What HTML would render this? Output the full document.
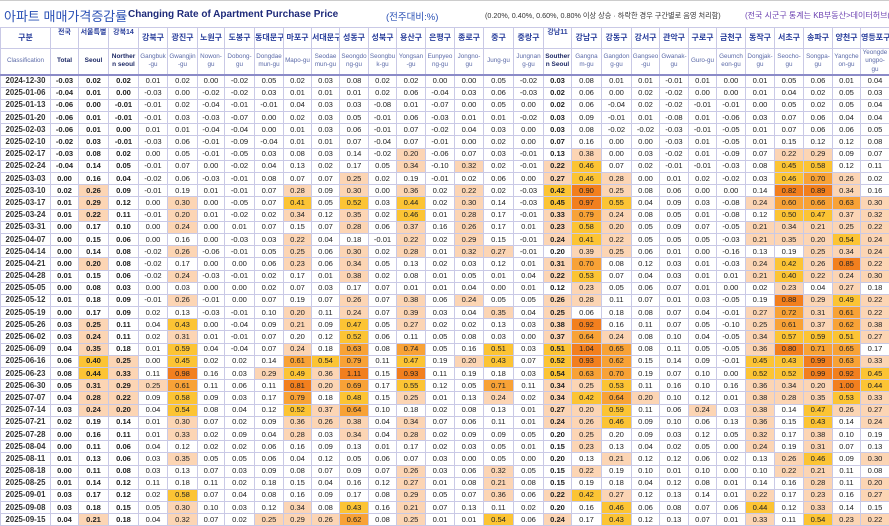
<!DOCTYPE html>
<html><head><meta charset="utf-8">
<style>
*{margin:0;padding:0;box-sizing:border-box}
body{width:889px;height:526px;background:#fff;font-family:"Liberation Sans","Noto Sans CJK KR",sans-serif;overflow:hidden;position:relative}
#title{position:absolute;left:0;top:0;width:889px;height:27px;border-top:1px solid #ccc;white-space:nowrap}
#title span{position:absolute;top:7px}
table{position:absolute;left:0;top:27px;border-collapse:collapse;table-layout:fixed;width:889px}
td{border:1px solid #c9c9e6;font-size:7.6px;text-align:center;height:12.2px;line-height:10px;color:#222;overflow:hidden;white-space:nowrap;padding:0}
tbody td:nth-child(1){font-weight:bold;color:#333;font-size:7.8px}
tbody td:nth-child(2),tbody td:nth-child(3),tbody td:nth-child(4),tbody td:nth-child(19){font-weight:bold}
thead td{background:#fff;color:#2a3f9c;height:20.5px;line-height:8.5px}
thead tr.k td{font-size:8px;font-weight:bold}
thead tr.e td{font-size:6.3px;color:#5b6aa8;border-bottom:2px solid #8b8bc8}
thead tr.e td.b{font-weight:bold;color:#1e2a66;font-size:6.5px}
thead tr.k td.s{font-size:7px;vertical-align:top;padding-top:1px}
.p{background:#fcd5b4}.y{background:#fcc434}.o{background:#f8a236}.r{background:#f27f1e}
</style></head><body>
<div id="title">
<span style="left:4px;top:5px;font-size:13px;color:#2a50b5">아파트 매매가격증감률</span>
<span style="left:128px;top:8px;font-size:10px;font-weight:bold;color:#1e2a7a">Changing Rate of Apartment Purchase Price</span>
<span style="left:386px;top:8px;font-size:9.5px;color:#2a50b5">(전주대비:%)</span>
<span style="left:485px;top:10px;font-size:7.2px;color:#333">(0.20%, 0.40%, 0.60%, 0.80% 이상 상승 · 하락한 경우 구간별로 음영 처리함)</span>
<span style="left:745px;top:9px;font-size:8px;color:#6a3fb0">(전국 시군구 통계는 KB부동산&gt;데이터허브(d</span>
</div>
<table>
<colgroup><col style="width:50px"><col style="width:28px"><col style="width:30px"><col style="width:30px"><col style="width:29px"><col style="width:30px"><col style="width:27px"><col style="width:30px"><col style="width:29px"><col style="width:28px"><col style="width:28px"><col style="width:29px"><col style="width:28px"><col style="width:29px"><col style="width:29px"><col style="width:29px"><col style="width:30px"><col style="width:30px"><col style="width:28px"><col style="width:30px"><col style="width:30px"><col style="width:28px"><col style="width:29px"><col style="width:28px"><col style="width:29px"><col style="width:29px"><col style="width:29px"><col style="width:29px"><col style="width:28px"><col style="width:29px"></colgroup>
<thead>
<tr class="k"><td>구분</td><td class="s">전국</td><td class="s">서울특별</td><td class="s">강북14</td><td>강북구</td><td>광진구</td><td>노원구</td><td>도봉구</td><td>동대문구</td><td>마포구</td><td>서대문구</td><td>성동구</td><td>성북구</td><td>용산구</td><td>은평구</td><td>종로구</td><td>중구</td><td>중랑구</td><td class="s">강남11</td><td>강남구</td><td>강동구</td><td>강서구</td><td>관악구</td><td>구로구</td><td>금천구</td><td>동작구</td><td>서초구</td><td>송파구</td><td>양천구</td><td>영등포구</td></tr>
<tr class="e"><td>Classification</td><td class="b">Total</td><td class="b">Seoul</td><td class="b">Norther<br>n seoul</td><td>Gangbuk<br>-gu</td><td>Gwangjin<br>-gu</td><td>Nowon-<br>gu</td><td>Dobong-<br>gu</td><td>Dongdae<br>mun-gu</td><td>Mapo-gu</td><td>Seodae<br>mun-gu</td><td>Seongdo<br>ng-gu</td><td>Seongbu<br>k-gu</td><td>Yongsan<br>-gu</td><td>Eunpyeo<br>ng-gu</td><td>Jongno-<br>gu</td><td>Jung-gu</td><td>Jungnan<br>g-gu</td><td class="b">Souther<br>n Seoul</td><td>Gangna<br>m-gu</td><td>Gangdon<br>g-gu</td><td>Gangseo<br>-gu</td><td>Gwanak-<br>gu</td><td>Guro-gu</td><td>Geumch<br>eon-gu</td><td>Dongjak-<br>gu</td><td>Seocho-<br>gu</td><td>Songpa-<br>gu</td><td>Yangche<br>on-gu</td><td>Yeongde<br>ungpo-<br>gu</td></tr>
</thead>
<tbody>
<tr><td>2024-12-30</td><td>-0.03</td><td>0.02</td><td>0.02</td><td>0.01</td><td>0.02</td><td>0.00</td><td>-0.02</td><td>0.05</td><td>0.02</td><td>0.03</td><td>0.08</td><td>0.02</td><td>0.02</td><td>0.00</td><td>0.00</td><td>0.05</td><td>-0.02</td><td>0.03</td><td>0.08</td><td>0.01</td><td>0.01</td><td>-0.01</td><td>0.01</td><td>0.00</td><td>0.01</td><td>0.05</td><td>0.06</td><td>0.01</td><td>0.04</td></tr>
<tr><td>2025-01-06</td><td>-0.04</td><td>0.01</td><td>0.00</td><td>-0.03</td><td>0.00</td><td>-0.02</td><td>-0.02</td><td>0.03</td><td>0.01</td><td>0.01</td><td>0.01</td><td>0.02</td><td>0.06</td><td>-0.04</td><td>0.03</td><td>0.06</td><td>-0.03</td><td>0.02</td><td>0.06</td><td>0.00</td><td>0.02</td><td>-0.02</td><td>0.00</td><td>0.00</td><td>0.01</td><td>0.04</td><td>0.02</td><td>0.05</td><td>0.03</td></tr>
<tr><td>2025-01-13</td><td>-0.06</td><td>0.00</td><td>-0.01</td><td>-0.01</td><td>0.02</td><td>-0.04</td><td>-0.01</td><td>-0.01</td><td>0.04</td><td>0.03</td><td>0.03</td><td>-0.08</td><td>0.01</td><td>-0.07</td><td>0.00</td><td>0.05</td><td>0.00</td><td>0.02</td><td>0.06</td><td>-0.04</td><td>0.02</td><td>-0.02</td><td>-0.01</td><td>-0.01</td><td>0.00</td><td>0.05</td><td>0.02</td><td>0.05</td><td>0.04</td></tr>
<tr><td>2025-01-20</td><td>-0.06</td><td>0.01</td><td>-0.01</td><td>-0.01</td><td>0.03</td><td>-0.03</td><td>-0.07</td><td>0.00</td><td>0.02</td><td>0.03</td><td>0.05</td><td>-0.01</td><td>0.06</td><td>-0.03</td><td>0.01</td><td>0.01</td><td>-0.02</td><td>0.03</td><td>0.09</td><td>-0.01</td><td>0.01</td><td>-0.08</td><td>0.01</td><td>-0.06</td><td>0.03</td><td>0.07</td><td>0.06</td><td>0.04</td><td>0.04</td></tr>
<tr><td>2025-02-03</td><td>-0.06</td><td>0.01</td><td>0.00</td><td>0.01</td><td>0.01</td><td>-0.04</td><td>-0.04</td><td>0.00</td><td>0.01</td><td>0.03</td><td>0.06</td><td>-0.01</td><td>0.07</td><td>-0.02</td><td>0.04</td><td>0.03</td><td>0.00</td><td>0.03</td><td>0.08</td><td>-0.02</td><td>-0.02</td><td>-0.03</td><td>-0.01</td><td>-0.05</td><td>0.01</td><td>0.07</td><td>0.06</td><td>0.06</td><td>0.05</td></tr>
<tr><td>2025-02-10</td><td>-0.02</td><td>0.03</td><td>-0.01</td><td>-0.03</td><td>0.06</td><td>-0.01</td><td>-0.09</td><td>-0.04</td><td>0.01</td><td>0.01</td><td>0.07</td><td>-0.04</td><td>0.07</td><td>-0.01</td><td>0.00</td><td>0.02</td><td>0.00</td><td>0.07</td><td>0.16</td><td>0.00</td><td>0.00</td><td>-0.03</td><td>0.01</td><td>-0.05</td><td>0.01</td><td>0.15</td><td>0.12</td><td>0.12</td><td>0.08</td></tr>
<tr><td>2025-02-17</td><td>-0.03</td><td>0.08</td><td>0.02</td><td>0.00</td><td>0.05</td><td>-0.01</td><td>-0.05</td><td>0.03</td><td>0.08</td><td>0.03</td><td>0.14</td><td>-0.02</td><td>0.20</td><td>-0.06</td><td>0.07</td><td>0.03</td><td>-0.01</td><td>0.13</td><td>0.38</td><td>0.00</td><td>0.03</td><td>-0.02</td><td>0.01</td><td>-0.09</td><td>0.07</td><td>0.22</td><td>0.29</td><td>0.09</td><td>0.07</td></tr>
<tr><td>2025-02-24</td><td>-0.04</td><td>0.14</td><td>0.05</td><td>-0.01</td><td>0.07</td><td>0.00</td><td>-0.02</td><td>0.04</td><td>0.13</td><td>0.02</td><td>0.17</td><td>0.05</td><td>0.34</td><td>-0.10</td><td>0.32</td><td>0.02</td><td>-0.01</td><td>0.22</td><td>0.46</td><td>0.07</td><td>0.02</td><td>-0.01</td><td>-0.01</td><td>-0.03</td><td>0.08</td><td>0.45</td><td>0.58</td><td>0.12</td><td>0.11</td></tr>
<tr><td>2025-03-03</td><td>0.00</td><td>0.16</td><td>0.04</td><td>-0.02</td><td>0.06</td><td>-0.03</td><td>-0.01</td><td>0.08</td><td>0.07</td><td>0.07</td><td>0.25</td><td>0.02</td><td>0.19</td><td>-0.01</td><td>0.02</td><td>0.06</td><td>0.00</td><td>0.27</td><td>0.46</td><td>0.28</td><td>0.00</td><td>0.01</td><td>0.02</td><td>-0.02</td><td>0.03</td><td>0.46</td><td>0.70</td><td>0.26</td><td>0.02</td></tr>
<tr><td>2025-03-10</td><td>0.02</td><td>0.26</td><td>0.09</td><td>-0.01</td><td>0.19</td><td>0.01</td><td>-0.01</td><td>0.07</td><td>0.28</td><td>0.09</td><td>0.30</td><td>0.00</td><td>0.36</td><td>0.02</td><td>0.22</td><td>0.02</td><td>-0.03</td><td>0.42</td><td>0.90</td><td>0.25</td><td>0.08</td><td>0.06</td><td>0.00</td><td>0.00</td><td>0.14</td><td>0.82</td><td>0.89</td><td>0.34</td><td>0.16</td></tr>
<tr><td>2025-03-17</td><td>0.01</td><td>0.29</td><td>0.12</td><td>0.00</td><td>0.30</td><td>0.00</td><td>-0.05</td><td>0.07</td><td>0.41</td><td>0.05</td><td>0.52</td><td>0.03</td><td>0.44</td><td>0.02</td><td>0.30</td><td>0.14</td><td>-0.03</td><td>0.45</td><td>0.97</td><td>0.55</td><td>0.04</td><td>0.09</td><td>0.03</td><td>-0.08</td><td>0.24</td><td>0.60</td><td>0.66</td><td>0.63</td><td>0.30</td></tr>
<tr><td>2025-03-24</td><td>0.01</td><td>0.22</td><td>0.11</td><td>-0.01</td><td>0.20</td><td>0.01</td><td>-0.02</td><td>0.02</td><td>0.34</td><td>0.12</td><td>0.35</td><td>0.02</td><td>0.46</td><td>0.01</td><td>0.28</td><td>0.17</td><td>-0.01</td><td>0.33</td><td>0.79</td><td>0.24</td><td>0.08</td><td>0.05</td><td>0.01</td><td>-0.08</td><td>0.12</td><td>0.50</td><td>0.47</td><td>0.37</td><td>0.32</td></tr>
<tr><td>2025-03-31</td><td>0.00</td><td>0.17</td><td>0.10</td><td>0.00</td><td>0.24</td><td>0.00</td><td>0.01</td><td>0.07</td><td>0.15</td><td>0.07</td><td>0.28</td><td>0.06</td><td>0.37</td><td>0.16</td><td>0.26</td><td>0.17</td><td>0.01</td><td>0.23</td><td>0.58</td><td>0.20</td><td>0.05</td><td>0.09</td><td>0.07</td><td>-0.05</td><td>0.21</td><td>0.34</td><td>0.21</td><td>0.25</td><td>0.22</td></tr>
<tr><td>2025-04-07</td><td>0.00</td><td>0.15</td><td>0.06</td><td>0.00</td><td>0.16</td><td>0.00</td><td>-0.03</td><td>0.03</td><td>0.22</td><td>0.04</td><td>0.18</td><td>-0.01</td><td>0.22</td><td>0.02</td><td>0.29</td><td>0.15</td><td>-0.01</td><td>0.24</td><td>0.41</td><td>0.22</td><td>0.05</td><td>0.05</td><td>0.05</td><td>-0.03</td><td>0.21</td><td>0.35</td><td>0.20</td><td>0.54</td><td>0.24</td></tr>
<tr><td>2025-04-14</td><td>0.00</td><td>0.14</td><td>0.08</td><td>-0.02</td><td>0.26</td><td>-0.06</td><td>-0.01</td><td>0.05</td><td>0.25</td><td>0.06</td><td>0.30</td><td>0.02</td><td>0.28</td><td>0.01</td><td>0.32</td><td>0.27</td><td>-0.01</td><td>0.199</td><td>0.39</td><td>0.25</td><td>0.06</td><td>0.01</td><td>0.00</td><td>-0.16</td><td>0.13</td><td>0.19</td><td>0.25</td><td>0.34</td><td>0.24</td></tr>
<tr><td>2025-04-21</td><td>0.00</td><td>0.20</td><td>0.08</td><td>-0.02</td><td>0.17</td><td>0.00</td><td>0.00</td><td>0.06</td><td>0.23</td><td>0.06</td><td>0.34</td><td>0.05</td><td>0.13</td><td>0.02</td><td>0.03</td><td>0.12</td><td>0.01</td><td>0.31</td><td>0.70</td><td>0.08</td><td>0.12</td><td>0.03</td><td>0.01</td><td>-0.03</td><td>0.24</td><td>0.42</td><td>0.26</td><td>0.85</td><td>0.22</td></tr>
<tr><td>2025-04-28</td><td>0.01</td><td>0.15</td><td>0.06</td><td>-0.02</td><td>0.24</td><td>-0.03</td><td>-0.01</td><td>0.02</td><td>0.17</td><td>0.01</td><td>0.38</td><td>0.02</td><td>0.08</td><td>0.01</td><td>0.05</td><td>0.01</td><td>0.04</td><td>0.22</td><td>0.53</td><td>0.07</td><td>0.04</td><td>0.03</td><td>0.01</td><td>0.01</td><td>0.21</td><td>0.40</td><td>0.22</td><td>0.24</td><td>0.30</td></tr>
<tr><td>2025-05-05</td><td>0.00</td><td>0.08</td><td>0.03</td><td>0.00</td><td>0.03</td><td>0.00</td><td>0.00</td><td>0.02</td><td>0.07</td><td>0.03</td><td>0.17</td><td>0.07</td><td>0.01</td><td>0.01</td><td>0.04</td><td>0.00</td><td>0.01</td><td>0.12</td><td>0.23</td><td>0.05</td><td>0.06</td><td>0.07</td><td>0.01</td><td>0.00</td><td>0.02</td><td>0.23</td><td>0.04</td><td>0.27</td><td>0.18</td></tr>
<tr><td>2025-05-12</td><td>0.01</td><td>0.18</td><td>0.09</td><td>-0.01</td><td>0.26</td><td>-0.01</td><td>0.00</td><td>0.07</td><td>0.19</td><td>0.07</td><td>0.26</td><td>0.07</td><td>0.38</td><td>0.06</td><td>0.24</td><td>0.05</td><td>0.05</td><td>0.26</td><td>0.28</td><td>0.11</td><td>0.07</td><td>0.01</td><td>0.03</td><td>-0.05</td><td>0.19</td><td>0.88</td><td>0.29</td><td>0.49</td><td>0.22</td></tr>
<tr><td>2025-05-19</td><td>0.00</td><td>0.17</td><td>0.09</td><td>0.02</td><td>0.13</td><td>-0.03</td><td>-0.01</td><td>0.10</td><td>0.20</td><td>0.11</td><td>0.24</td><td>0.07</td><td>0.39</td><td>0.03</td><td>0.04</td><td>0.35</td><td>0.04</td><td>0.25</td><td>0.06</td><td>0.18</td><td>0.08</td><td>0.07</td><td>0.04</td><td>-0.01</td><td>0.27</td><td>0.72</td><td>0.31</td><td>0.61</td><td>0.22</td></tr>
<tr><td>2025-05-26</td><td>0.03</td><td>0.25</td><td>0.11</td><td>0.04</td><td>0.43</td><td>0.00</td><td>-0.04</td><td>0.09</td><td>0.21</td><td>0.09</td><td>0.47</td><td>0.05</td><td>0.27</td><td>0.02</td><td>0.02</td><td>0.13</td><td>0.03</td><td>0.38</td><td>0.92</td><td>0.16</td><td>0.11</td><td>0.07</td><td>0.05</td><td>-0.10</td><td>0.25</td><td>0.61</td><td>0.37</td><td>0.62</td><td>0.38</td></tr>
<tr><td>2025-06-02</td><td>0.03</td><td>0.24</td><td>0.11</td><td>0.02</td><td>0.31</td><td>0.01</td><td>-0.01</td><td>0.07</td><td>0.199</td><td>0.12</td><td>0.52</td><td>0.06</td><td>0.11</td><td>0.05</td><td>0.08</td><td>0.03</td><td>0.00</td><td>0.37</td><td>0.64</td><td>0.24</td><td>0.08</td><td>0.10</td><td>0.04</td><td>-0.05</td><td>0.34</td><td>0.57</td><td>0.59</td><td>0.51</td><td>0.27</td></tr>
<tr><td>2025-06-09</td><td>0.04</td><td>0.35</td><td>0.18</td><td>0.01</td><td>0.59</td><td>0.04</td><td>-0.04</td><td>0.07</td><td>0.24</td><td>0.18</td><td>0.63</td><td>0.08</td><td>0.74</td><td>0.05</td><td>0.16</td><td>0.51</td><td>0.03</td><td>0.51</td><td>1.04</td><td>0.65</td><td>0.08</td><td>0.11</td><td>0.05</td><td>-0.05</td><td>0.36</td><td>0.80</td><td>0.71</td><td>0.65</td><td>0.17</td></tr>
<tr><td>2025-06-16</td><td>0.06</td><td>0.40</td><td>0.25</td><td>0.00</td><td>0.45</td><td>0.02</td><td>0.02</td><td>0.14</td><td>0.61</td><td>0.54</td><td>0.79</td><td>0.11</td><td>0.47</td><td>0.19</td><td>0.20</td><td>0.43</td><td>0.07</td><td>0.52</td><td>0.93</td><td>0.62</td><td>0.15</td><td>0.14</td><td>0.09</td><td>-0.01</td><td>0.45</td><td>0.43</td><td>0.99</td><td>0.63</td><td>0.33</td></tr>
<tr><td>2025-06-23</td><td>0.08</td><td>0.44</td><td>0.33</td><td>0.11</td><td>0.98</td><td>0.16</td><td>0.03</td><td>0.29</td><td>0.49</td><td>0.36</td><td>1.11</td><td>0.15</td><td>0.93</td><td>0.11</td><td>0.19</td><td>0.18</td><td>0.03</td><td>0.54</td><td>0.63</td><td>0.70</td><td>0.19</td><td>0.07</td><td>0.10</td><td>0.00</td><td>0.52</td><td>0.52</td><td>0.99</td><td>0.92</td><td>0.45</td></tr>
<tr><td>2025-06-30</td><td>0.05</td><td>0.31</td><td>0.29</td><td>0.25</td><td>0.61</td><td>0.11</td><td>0.06</td><td>0.11</td><td>0.81</td><td>0.20</td><td>0.69</td><td>0.17</td><td>0.55</td><td>0.12</td><td>0.05</td><td>0.71</td><td>0.11</td><td>0.34</td><td>0.25</td><td>0.53</td><td>0.11</td><td>0.16</td><td>0.10</td><td>0.16</td><td>0.36</td><td>0.34</td><td>0.20</td><td>1.00</td><td>0.44</td></tr>
<tr><td>2025-07-07</td><td>0.04</td><td>0.28</td><td>0.22</td><td>0.09</td><td>0.58</td><td>0.09</td><td>0.03</td><td>0.17</td><td>0.79</td><td>0.18</td><td>0.48</td><td>0.15</td><td>0.25</td><td>0.01</td><td>0.13</td><td>0.24</td><td>0.02</td><td>0.34</td><td>0.42</td><td>0.64</td><td>0.20</td><td>0.10</td><td>0.12</td><td>0.01</td><td>0.38</td><td>0.28</td><td>0.35</td><td>0.53</td><td>0.33</td></tr>
<tr><td>2025-07-14</td><td>0.03</td><td>0.24</td><td>0.20</td><td>0.04</td><td>0.54</td><td>0.08</td><td>0.04</td><td>0.12</td><td>0.52</td><td>0.37</td><td>0.64</td><td>0.10</td><td>0.18</td><td>0.02</td><td>0.08</td><td>0.13</td><td>0.01</td><td>0.27</td><td>0.20</td><td>0.59</td><td>0.11</td><td>0.06</td><td>0.24</td><td>0.03</td><td>0.38</td><td>0.14</td><td>0.47</td><td>0.26</td><td>0.27</td></tr>
<tr><td>2025-07-21</td><td>0.02</td><td>0.19</td><td>0.14</td><td>0.01</td><td>0.30</td><td>0.07</td><td>0.02</td><td>0.09</td><td>0.36</td><td>0.26</td><td>0.38</td><td>0.04</td><td>0.34</td><td>0.07</td><td>0.06</td><td>0.11</td><td>0.01</td><td>0.24</td><td>0.26</td><td>0.46</td><td>0.09</td><td>0.10</td><td>0.06</td><td>0.13</td><td>0.36</td><td>0.15</td><td>0.43</td><td>0.14</td><td>0.24</td></tr>
<tr><td>2025-07-28</td><td>0.00</td><td>0.16</td><td>0.11</td><td>0.01</td><td>0.33</td><td>0.02</td><td>0.09</td><td>0.04</td><td>0.28</td><td>0.03</td><td>0.34</td><td>0.04</td><td>0.28</td><td>0.02</td><td>0.09</td><td>0.09</td><td>0.05</td><td>0.199</td><td>0.25</td><td>0.199</td><td>0.09</td><td>0.03</td><td>0.12</td><td>0.05</td><td>0.32</td><td>0.17</td><td>0.38</td><td>0.10</td><td>0.19</td></tr>
<tr><td>2025-08-04</td><td>0.00</td><td>0.11</td><td>0.06</td><td>0.04</td><td>0.12</td><td>0.02</td><td>0.02</td><td>0.06</td><td>0.16</td><td>0.09</td><td>0.13</td><td>0.01</td><td>0.17</td><td>0.02</td><td>0.03</td><td>0.05</td><td>0.01</td><td>0.15</td><td>0.23</td><td>0.13</td><td>0.04</td><td>0.02</td><td>0.05</td><td>0.00</td><td>0.24</td><td>0.19</td><td>0.31</td><td>0.07</td><td>0.13</td></tr>
<tr><td>2025-08-11</td><td>0.01</td><td>0.13</td><td>0.06</td><td>0.03</td><td>0.35</td><td>0.05</td><td>0.05</td><td>0.06</td><td>0.04</td><td>0.12</td><td>0.05</td><td>0.06</td><td>0.07</td><td>0.03</td><td>0.00</td><td>0.05</td><td>0.00</td><td>0.199</td><td>0.13</td><td>0.21</td><td>0.12</td><td>0.12</td><td>0.06</td><td>0.02</td><td>0.13</td><td>0.26</td><td>0.46</td><td>0.09</td><td>0.30</td></tr>
<tr><td>2025-08-18</td><td>0.00</td><td>0.11</td><td>0.08</td><td>0.03</td><td>0.13</td><td>0.07</td><td>0.03</td><td>0.09</td><td>0.08</td><td>0.07</td><td>0.09</td><td>0.07</td><td>0.26</td><td>0.03</td><td>0.06</td><td>0.32</td><td>0.05</td><td>0.15</td><td>0.22</td><td>0.19</td><td>0.10</td><td>0.01</td><td>0.10</td><td>0.00</td><td>0.10</td><td>0.22</td><td>0.21</td><td>0.11</td><td>0.08</td></tr>
<tr><td>2025-08-25</td><td>0.01</td><td>0.14</td><td>0.12</td><td>0.11</td><td>0.18</td><td>0.11</td><td>0.02</td><td>0.18</td><td>0.15</td><td>0.04</td><td>0.16</td><td>0.12</td><td>0.27</td><td>0.01</td><td>0.08</td><td>0.21</td><td>0.08</td><td>0.15</td><td>0.19</td><td>0.18</td><td>0.04</td><td>0.12</td><td>0.08</td><td>0.01</td><td>0.14</td><td>0.16</td><td>0.28</td><td>0.11</td><td>0.20</td></tr>
<tr><td>2025-09-01</td><td>0.03</td><td>0.17</td><td>0.12</td><td>0.02</td><td>0.58</td><td>0.07</td><td>0.04</td><td>0.08</td><td>0.16</td><td>0.09</td><td>0.17</td><td>0.08</td><td>0.29</td><td>0.05</td><td>0.07</td><td>0.36</td><td>0.06</td><td>0.22</td><td>0.42</td><td>0.27</td><td>0.12</td><td>0.13</td><td>0.14</td><td>0.01</td><td>0.22</td><td>0.17</td><td>0.23</td><td>0.16</td><td>0.27</td></tr>
<tr><td>2025-09-08</td><td>0.03</td><td>0.18</td><td>0.15</td><td>0.05</td><td>0.30</td><td>0.10</td><td>0.03</td><td>0.12</td><td>0.34</td><td>0.08</td><td>0.43</td><td>0.16</td><td>0.21</td><td>0.07</td><td>0.13</td><td>0.11</td><td>0.02</td><td>0.199</td><td>0.16</td><td>0.46</td><td>0.06</td><td>0.08</td><td>0.07</td><td>0.06</td><td>0.44</td><td>0.12</td><td>0.33</td><td>0.14</td><td>0.15</td></tr>
<tr><td>2025-09-15</td><td>0.04</td><td>0.21</td><td>0.18</td><td>0.04</td><td>0.32</td><td>0.07</td><td>0.02</td><td>0.25</td><td>0.29</td><td>0.26</td><td>0.62</td><td>0.08</td><td>0.25</td><td>0.01</td><td>0.01</td><td>0.54</td><td>0.06</td><td>0.24</td><td>0.17</td><td>0.43</td><td>0.12</td><td>0.13</td><td>0.07</td><td>0.01</td><td>0.33</td><td>0.11</td><td>0.54</td><td>0.23</td><td>0.22</td></tr>
</tbody></table>
<script>
document.querySelectorAll('tbody tr').forEach(function(tr){
  var c=tr.children;
  for(var i=1;i<c.length;i++){
    var t=c[i].textContent, v=parseFloat(t);
    if(t==='0.199'){c[i].textContent='0.20';continue;}
    if(v>=0.8)c[i].className='r';
    else if(v>=0.6)c[i].className='o';
    else if(v>=0.4)c[i].className='y';
    else if(v>=0.2)c[i].className='p';
  }
});
</script>
</body></html>
